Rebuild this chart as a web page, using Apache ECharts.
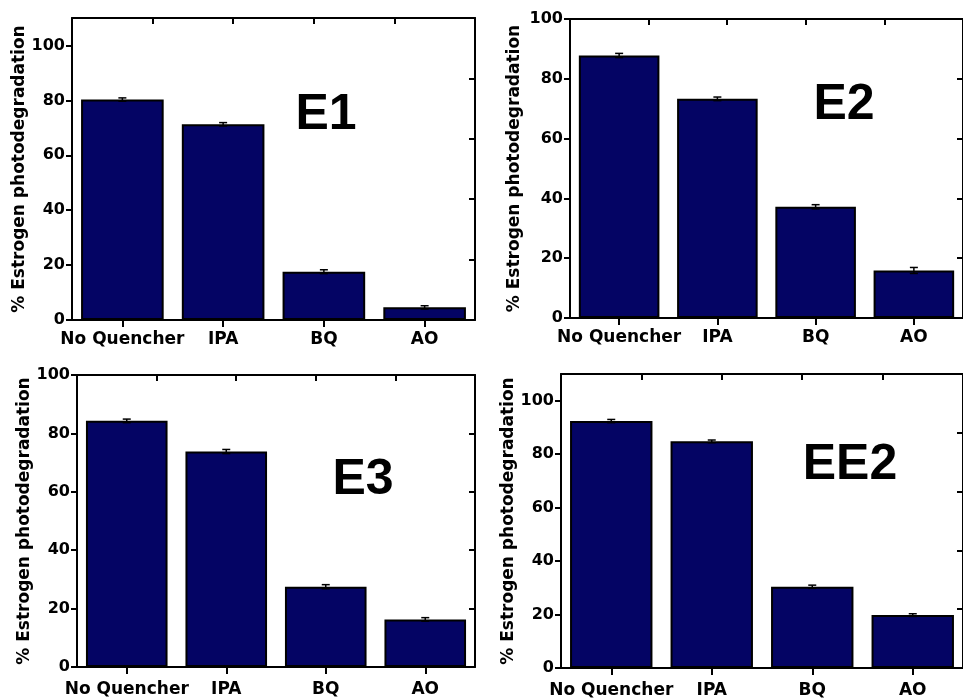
<!DOCTYPE html>
<html>
<head>
<meta charset="utf-8">
<script src="https://cdn.jsdelivr.net/npm/echarts@6/dist/echarts.min.js"></script>
<style>
html,body{margin:0;padding:0;background:#fff;}
#chart{width:963px;height:699px;}
</style>
</head>
<body>
<div id="chart"></div>
<script>
// ---- data ----
var categories = ['No Quencher', 'IPA', 'BQ', 'AO'];
var panelNames = ['E1', 'E2', 'E3', 'EE2'];
var valuesE1 = [80.3, 71.3, 17.6, 4.6];
var valuesE2 = [87.8, 73.3, 37.2, 15.9];
var valuesE3 = [84.3, 73.8, 27.5, 16.3];
var valuesEE2 = [92.4, 84.8, 30.4, 19.8];
var errorsE1 = [0.6, 0.6, 0.7, 0.6];
var errorsE2 = [0.7, 0.6, 0.7, 1.0];
var errorsE3 = [0.6, 0.7, 0.7, 0.6];
var errorsEE2 = [0.6, 0.5, 0.6, 0.5];
var yMaxes = [110, 100, 100, 110];
var yTickLabels = ['0', '20', '40', '60', '80', '100'];
var yAxisName = '% Estrogen photodegradation';

var allValues = [valuesE1, valuesE2, valuesE3, valuesEE2];
var allErrors = [errorsE1, errorsE2, errorsE3, errorsEE2];

// ---- layout / style ----
var grids = [
  {left: 72, top: 18, width: 403, height: 302},
  {left: 570, top: 19, width: 402, height: 299},
  {left: 77, top: 375, width: 398, height: 292},
  {left: 561, top: 374, width: 408, height: 295}
];
var nameGaps = [40, 47, 44, 44];
var labelMargins = [11, 11, 14, 14];
var titlePos = [[326, 115], [844, 105], [363, 480], [850, 465]];
var FONT = 'DejaVu Sans';
var BAR = '#040464';

var option = {
  animation: false,
  backgroundColor: '#ffffff',
  grid: grids.map(function (g) { return Object.assign({containLabel: false}, g); }),
  xAxis: [],
  yAxis: [],
  series: [],
  graphic: []
};

for (var i = 0; i < 4; i++) {
  // bottom category axis
  option.xAxis.push({
    type: 'category', gridIndex: i, data: categories, position: 'bottom',
    boundaryGap: true,
    axisLine: {show: true, lineStyle: {color: '#000', width: 2}},
    axisTick: {show: true, alignWithLabel: true, interval: 0, length: 7, inside: false, lineStyle: {color: '#000', width: 2}},
    axisLabel: {show: true, interval: 0, hideOverlap: false, color: '#000', fontFamily: FONT, fontWeight: 'bold', fontSize: 17, margin: labelMargins[i]},
    splitLine: {show: false}
  });
  // top frame axis (5 divisions)
  option.xAxis.push({
    type: 'value', gridIndex: i, position: 'top', min: 0, max: 5, interval: 1,
    axisLine: {show: true, onZero: false, lineStyle: {color: '#000', width: 2}},
    axisTick: {show: true, inside: true, length: 6, lineStyle: {color: '#000', width: 2}},
    axisLabel: {show: false}, splitLine: {show: false}
  });
  // left value axis
  option.yAxis.push({
    type: 'value', gridIndex: i, position: 'left', min: 0, max: yMaxes[i], interval: 20,
    name: yAxisName, nameLocation: 'middle', nameGap: nameGaps[i], nameRotate: 90,
    nameTextStyle: {color: '#000', fontFamily: FONT, fontWeight: 'bold', fontSize: 17},
    axisLine: {show: true, lineStyle: {color: '#000', width: 2}},
    axisTick: {show: true, inside: false, length: 6, lineStyle: {color: '#000', width: 2}},
    axisLabel: {
      show: true, color: '#000', fontFamily: FONT, fontWeight: 'bold', fontSize: 16, margin: 7,
      showMaxLabel: yMaxes[i] === 100,
      formatter: function (v) { var s = String(v); return yTickLabels.indexOf(s) >= 0 ? s : ''; }
    },
    splitLine: {show: false}
  });
  // right frame axis (5 divisions)
  option.yAxis.push({
    type: 'value', gridIndex: i, position: 'right', min: 0, max: 5, interval: 1,
    axisLine: {show: true, onZero: false, lineStyle: {color: '#000', width: 2}},
    axisTick: {show: true, inside: true, length: 6, lineStyle: {color: '#000', width: 2}},
    axisLabel: {show: false}, splitLine: {show: false}
  });

  option.series.push({
    type: 'bar', xAxisIndex: 2 * i, yAxisIndex: 2 * i,
    data: allValues[i], barCategoryGap: '18%',
    itemStyle: {color: BAR, borderColor: '#000', borderWidth: 2},
    z: 2
  });

  (function (idx) {
    var vals = allValues[idx], errs = allErrors[idx];
    option.series.push({
      type: 'custom', xAxisIndex: 2 * idx, yAxisIndex: 2 * idx,
      data: vals.map(function (v, k) { return [k, v - errs[k], v + errs[k]]; }),
      renderItem: function (params, api) {
        var x = api.value(0);
        var lo = api.coord([x, api.value(1)]);
        var hi = api.coord([x, api.value(2)]);
        var hw = 4;
        var st = {stroke: '#000', lineWidth: 1.5};
        return {
          type: 'group',
          children: [
            {type: 'line', shape: {x1: hi[0], y1: hi[1], x2: lo[0], y2: lo[1]}, style: st},
            {type: 'line', shape: {x1: hi[0] - hw, y1: hi[1], x2: hi[0] + hw, y2: hi[1]}, style: st},
            {type: 'line', shape: {x1: lo[0] - hw, y1: lo[1], x2: lo[0] + hw, y2: lo[1]}, style: st}
          ]
        };
      },
      z: 3
    });
  })(i);

  option.graphic.push({
    type: 'text', x: titlePos[i][0], y: titlePos[i][1], z: 10,
    style: {
      text: panelNames[i], fill: '#000',
      font: 'bold 50px "Liberation Sans", Arial, sans-serif',
      textAlign: 'center', textVerticalAlign: 'middle'
    }
  });
}

var chart = echarts.init(document.getElementById('chart'), null, {renderer: 'canvas'});
chart.setOption(option);
</script>
</body>
</html>
